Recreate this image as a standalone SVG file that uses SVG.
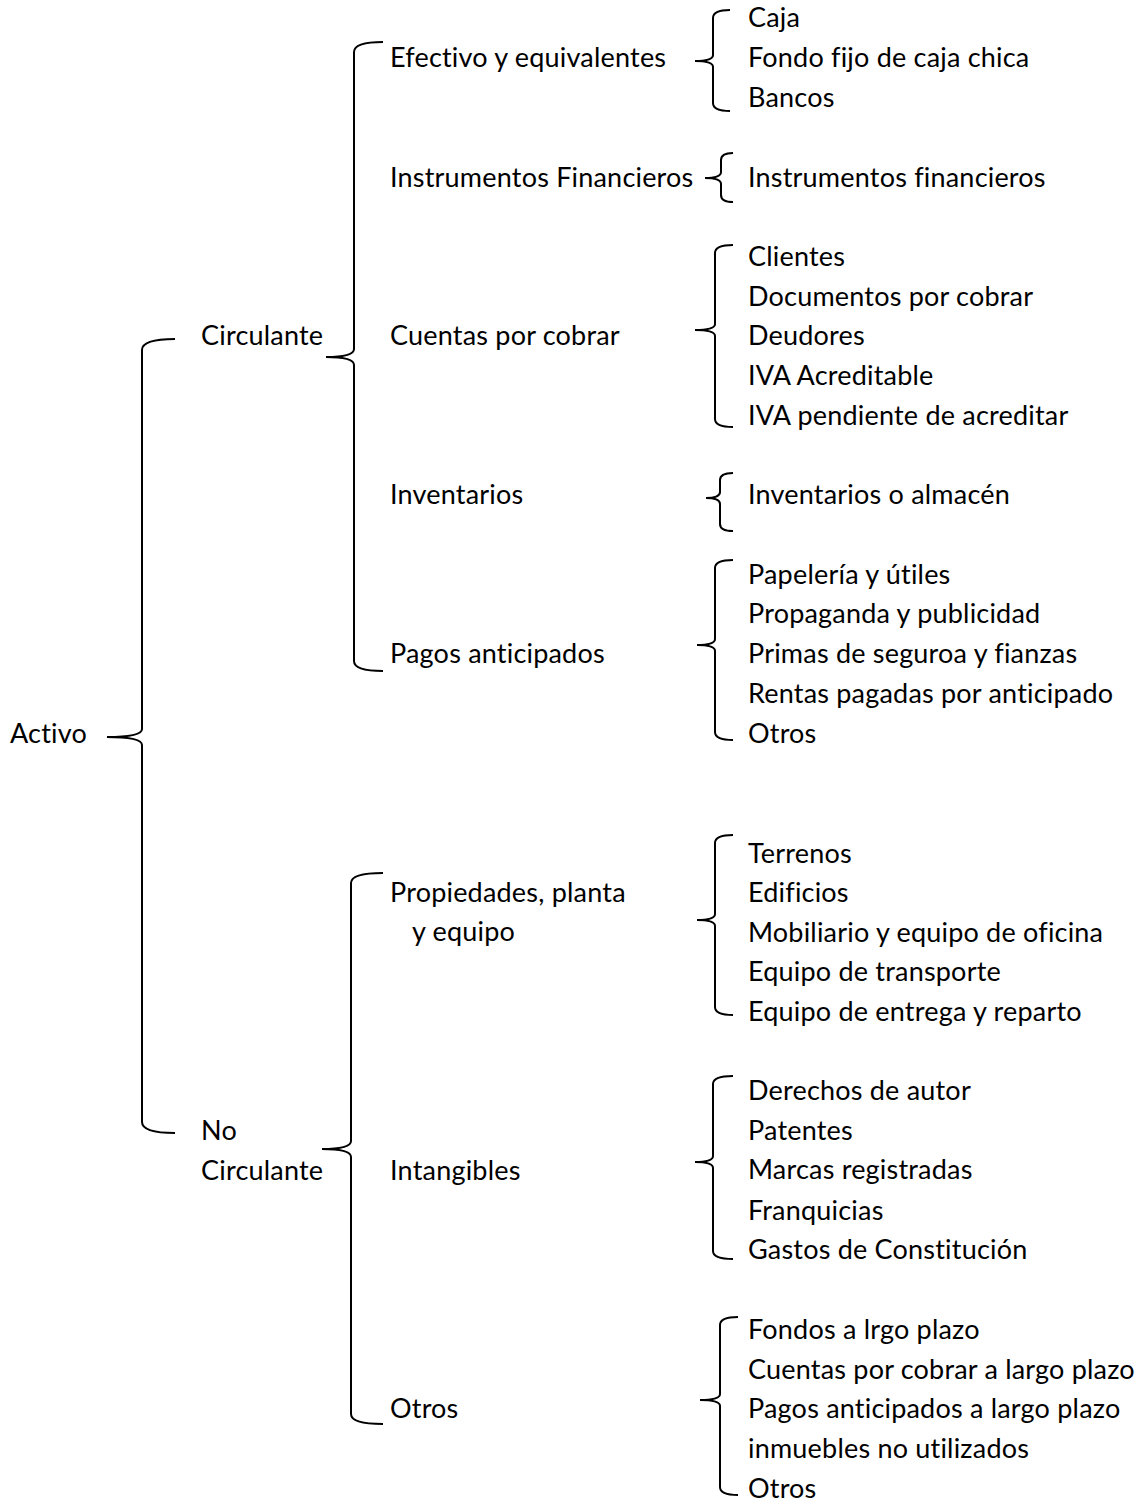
<svg xmlns="http://www.w3.org/2000/svg" width="1143" height="1503" viewBox="0 0 1143 1503">
<style>
text{font-family:Lato,"Open Sans","Liberation Sans",sans-serif;font-size:27px;letter-spacing:0.2px;fill:#000}
.br{fill:none;stroke:#000;stroke-width:2}
</style>
<rect width="1143" height="1503" fill="#fff"/>
<g id="connectors">
<path class="br" d="M175,339 Q142,339 142,350 L142,729 Q142,737 107,737 Q142,737 142,745 L142,1122 Q142,1133 175,1133"/>
<path class="br" d="M383,42 Q354,42 354,52 L354,349 Q354,357 326,357 Q354,357 354,365 L354,661 Q354,671 383,671"/>
<path class="br" d="M383,873 Q351,873 351,883 L351,1141 Q351,1149 322,1149 Q351,1149 351,1157 L351,1414 Q351,1424 383,1424"/>
<path class="br" d="M730,10 Q713,10 713,18 L713,55 Q713,61 695,61 Q713,61 713,67 L713,103 Q713,111 730,111"/>
<path class="br" d="M733,153 Q721,153 721,160 L721,172 Q721,178 705,178 Q721,178 721,184 L721,195 Q721,202 733,202"/>
<path class="br" d="M733,245 Q715,245 715,253 L715,324 Q715,330 695,330 Q715,330 715,336 L715,419 Q715,427 733,427"/>
<path class="br" d="M733,473 Q720,473 720,480 L720,492 Q720,498 706,498 Q720,498 720,504 L720,524 Q720,531 733,531"/>
<path class="br" d="M733,560 Q715,560 715,568 L715,639 Q715,645 697,645 Q715,645 715,651 L715,732 Q715,740 733,740"/>
<path class="br" d="M733,835 Q715,835 715,843 L715,914 Q715,920 697,920 Q715,920 715,926 L715,1007 Q715,1015 733,1015"/>
<path class="br" d="M733,1076 Q713,1076 713,1084 L713,1156 Q713,1162 695,1162 Q713,1162 713,1168 L713,1251 Q713,1259 733,1259"/>
<path class="br" d="M738,1317 Q720,1317 720,1325 L720,1394 Q720,1400 700,1400 Q720,1400 720,1406 L720,1487 Q720,1495 738,1495"/>
</g>
<g id="n-activo"><text x="10" y="743">Activo</text></g>
<g id="n-circulante"><text x="201" y="345">Circulante</text></g>
<g id="n-nocirculante"><text x="201" y="1140">No</text><text x="201" y="1180">Circulante</text></g>
<g id="n-efectivo"><text x="390" y="67">Efectivo y equivalentes</text></g>
<g id="n-instrumentos"><text x="390" y="187">Instrumentos Financieros</text></g>
<g id="n-cuentas"><text x="390" y="345">Cuentas por cobrar</text></g>
<g id="n-inventarios"><text x="390" y="504">Inventarios</text></g>
<g id="n-pagos"><text x="390" y="663">Pagos anticipados</text></g>
<g id="n-propiedades"><text x="390" y="902">Propiedades, planta</text><text x="412" y="941">y equipo</text></g>
<g id="n-intangibles"><text x="390" y="1180">Intangibles</text></g>
<g id="n-otros"><text x="390" y="1418">Otros</text></g>
<g id="l-efectivo">
<text x="748" y="27">Caja</text>
<text x="748" y="67">Fondo fijo de caja chica</text>
<text x="748" y="107">Bancos</text>
</g>
<g id="l-instrumentos"><text x="748" y="187">Instrumentos financieros</text></g>
<g id="l-cuentas">
<text x="748" y="266">Clientes</text>
<text x="748" y="306">Documentos por cobrar</text>
<text x="748" y="345">Deudores</text>
<text x="748" y="385">IVA Acreditable</text>
<text x="748" y="425">IVA pendiente de acreditar</text>
</g>
<g id="l-inventarios"><text x="748" y="504">Inventarios o almacén</text></g>
<g id="l-pagos">
<text x="748" y="584">Papelería y útiles</text>
<text x="748" y="623">Propaganda y publicidad</text>
<text x="748" y="663">Primas de seguroa y fianzas</text>
<text x="748" y="703">Rentas pagadas por anticipado</text>
<text x="748" y="743">Otros</text>
</g>
<g id="l-propiedades">
<text x="748" y="863">Terrenos</text>
<text x="748" y="902">Edificios</text>
<text x="748" y="942">Mobiliario y equipo de oficina</text>
<text x="748" y="981">Equipo de transporte</text>
<text x="748" y="1021">Equipo de entrega y reparto</text>
</g>
<g id="l-intangibles">
<text x="748" y="1100">Derechos de autor</text>
<text x="748" y="1140">Patentes</text>
<text x="748" y="1179">Marcas registradas</text>
<text x="748" y="1220">Franquicias</text>
<text x="748" y="1259">Gastos de Constitución</text>
</g>
<g id="l-otros">
<text x="748" y="1339">Fondos a lrgo plazo</text>
<text x="748" y="1379">Cuentas por cobrar a largo plazo</text>
<text x="748" y="1418">Pagos anticipados a largo plazo</text>
<text x="748" y="1458">inmuebles no utilizados</text>
<text x="748" y="1498">Otros</text>
</g>
</svg>
